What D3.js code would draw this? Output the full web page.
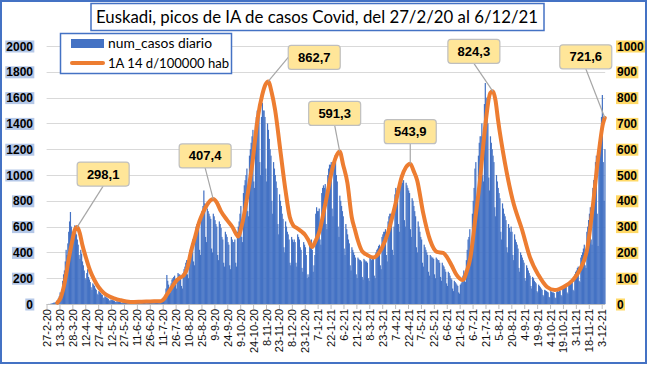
<!DOCTYPE html>
<html><head><meta charset="utf-8">
<script src="https://cdn.jsdelivr.net/npm/d3@7"></script>
<style>
html,body{margin:0;padding:0;background:#fff;}
svg{display:block;}
</style></head>
<body>
<svg id="chart" width="650" height="366"></svg>
<script>
// ---------------- DATA ----------------
const startDate = "27-2-20";
const endDate = "6-12-21";
const titleText = "Euskadi, picos de IA de casos Covid, del 27/2/20 al 6/12/21";
const seriesNames = ["num_casos diario", "1A 14 d/100000 hab"];

// daily cases, one row per week (Thu..Wed), starting 27-2-20
const dailyCases = [
  0,0,1,0,2,3,5,
  8,12,10,14,25,30,45,
  60,90,80,110,180,230,260,
  330,420,380,470,560,640,713,
  600,560,480,520,610,580,540,
  500,460,380,350,420,390,330,
  300,260,200,190,240,270,210,
  190,170,130,110,160,150,140,
  120,110,80,70,100,95,85,
  75,70,50,45,60,55,50,
  45,40,28,25,35,32,30,
  28,25,18,15,22,20,18,
  17,15,10,9,14,13,12,
  12,11,7,6,10,9,10,
  9,8,6,5,8,10,9,
  10,9,6,5,12,11,10,
  12,10,7,6,13,12,14,
  15,14,9,8,16,18,17,
  18,20,12,10,22,25,28,
  35,40,30,28,60,120,225,
  180,150,100,90,160,190,200,
  210,220,150,120,200,240,230,
  230,210,140,120,240,270,290,
  320,340,230,200,380,420,440,
  470,500,330,300,550,600,620,
  600,640,420,380,680,720,760,
  880,780,520,480,740,720,700,
  680,660,430,400,700,680,650,
  620,600,380,340,640,620,590,
  520,500,320,290,560,540,520,
  480,460,300,270,520,500,480,
  480,500,320,290,560,600,640,
  700,760,520,480,860,920,960,
  1000,1050,720,680,1150,1200,1250,
  1300,1350,950,900,1400,1450,1500,
  1480,1520,1100,1000,1450,1560,1500,
  1500,1450,1050,950,1400,1350,1280,
  1200,1150,800,700,1100,1050,1000,
  950,900,620,540,850,800,760,
  700,660,440,400,640,600,560,
  540,500,320,300,520,500,480,
  500,480,320,290,540,520,500,
  440,420,280,250,480,460,440,
  380,200,230,210,460,480,500,
  420,250,300,380,700,750,720,
  720,740,500,460,860,900,920,
  900,930,620,580,1000,1050,1080,
  1080,1100,740,680,1120,1150,1100,
  1000,950,600,520,840,800,760,
  720,680,430,380,620,580,540,
  500,470,300,260,440,420,400,
  380,360,230,200,360,350,340,
  340,330,210,190,350,340,330,
  330,320,200,180,360,350,340,
  360,350,220,200,400,420,430,
  450,460,300,270,520,540,560,
  560,580,380,330,640,680,700,
  700,650,420,380,600,850,900,
  880,900,620,560,960,1000,1000,
  940,960,650,600,940,920,900,
  880,860,580,520,820,800,760,
  720,680,440,400,640,600,560,
  520,500,320,290,460,440,420,
  400,380,250,220,380,370,360,
  360,350,230,200,360,350,340,
  340,320,210,180,320,300,290,
  270,250,160,140,250,240,220,
  200,190,120,100,180,170,160,
  150,140,90,80,150,160,170,
  220,260,180,170,340,420,500,
  520,580,400,380,700,800,900,
  1050,1100,780,700,1150,1250,1300,
  1300,1400,1000,950,1550,1713,1600,
  1450,1400,980,880,1300,1250,1200,
  1150,1100,750,680,1000,950,900,
  860,820,560,500,780,740,700,
  680,650,440,400,620,590,560,
  600,560,380,340,540,500,480,
  460,430,280,250,400,380,360,
  340,320,200,180,300,280,260,
  240,220,140,120,210,200,180,
  170,160,100,90,150,140,130,
  120,110,70,60,110,105,100,
  95,90,55,50,100,95,90,
  90,85,50,45,95,100,95,
  110,105,70,60,130,135,130,
  150,140,90,80,170,170,160,
  180,170,110,100,230,250,260,
  280,290,180,170,360,380,400,
  430,460,300,280,560,600,651,
  700,750,500,460,900,961,1000,
  1100,1150,700,450,1250,1300,1350,
  1450,1620,1100,800,1200
];

// IA 14 d / 100000 hab, read at these day offsets from 27-2-20
const iaDays = [12,16,20,25,29,32,35,38,41,45,50,55,60,66,72,78,85,97,110,120,132,136,139,145,151,155,159,163,167,172,177,181,186,190,193,197,202,209,216,219,222,226,232,238,245,250,254,257,261,265,271,277,282,286,290,296,300,304,308,312,317,321,325,332,337,340,344,349,354,358,361,366,372,379,385,389,396,404,412,417,422,426,430,437,445,453,460,465,470,476,483,488,492,497,503,509,515,518,521,524,532,541,552,561,571,581,590,600,611,619,628,634,640,646,648];
const iaValues = [5,25,75,170,240,285,298.1,275,230,182,130,93,65,43,30,22,15,8,9,10,11,20,35,65,93,103,112,140,200,260,320,353,385,402,407.4,395,360,326,295,275,262,300,403,531,725,810,852,862.7,820,752,597,442,337,305,295,280,267,245,221,245,287,350,415,531,580,591.3,540,469,337,285,248,205,190,180,195,217,275,376,492,530,543.9,515,480,353,248,202,198,180,150,112,93,130,182,314,480,686,818,824.3,790,713,547,403,287,182,112,66,54,66,93,132,221,376,558,700,721.6];

// labelled peaks (day offset, value)
const peakDays = [35,193,257,340,422,518,648];
const peakValues = [298.1,407.4,862.7,591.3,543.9,824.3,721.6];

// tick labels, every 15 days from 27-2-20
const tickLabels = ["27-2-20","13-3-20","28-3-20","12-4-20","27-4-20","12-5-20","27-5-20","11-6-20","26-6-20","11-7-20","26-7-20","10-8-20","25-8-20","9-9-20","24-9-20","9-10-20","24-10-20","8-11-20","23-11-20","8-12-20","23-12-20","7-1-21","22-1-21","6-2-21","21-2-21","8-3-21","23-3-21","7-4-21","22-4-21","7-5-21","22-5-21","6-6-21","21-6-21","6-7-21","21-7-21","5-8-21","20-8-21","4-9-21","19-9-21","4-10-21","19-10-21","3-11-21","18-11-21","3-12-21"];
const tickStep = 15;
const leftTicks = [0,200,400,600,800,1000,1200,1400,1600,1800,2000];
const rightTicks = [0,100,200,300,400,500,600,700,800,900,1000];

// ---------------- LAYOUT / STYLE ----------------
const plot = {left:46.6, right:605.2, top:46, bottom:304};
// label box offsets from peak point (px) and leader anchor side
const peakLabelLayout = [
  {dx:26, dy:-53, side:"bottom"},
  {dx:-8, dy:-43, side:"bottom"},
  {dx:46, dy:-24, side:"left"},
  {dx:-5, dy:-38, side:"bottom"},
  {dx:0, dy:-32, side:"bottom"},
  {dx:-19, dy:-40, side:"bottom"},
  {dx:-19, dy:-61, side:"bottom"}
];
const BLUE = "#4472C4", ORANGE = "#ED7D31";

const svg = d3.select("#chart");
svg.append("rect").attr("width",650).attr("height",366).attr("fill","#fff");

const n = dailyCases.length;
const x = d3.scaleLinear().domain([-0.5, n - 0.5]).range([plot.left, plot.right]);
const yL = d3.scaleLinear().domain([0,2000]).range([plot.bottom, plot.top]);
const yR = d3.scaleLinear().domain([0,1000]).range([plot.bottom, plot.top]);
const step = x(1) - x(0);

// gridlines
svg.append("g").selectAll("line").data(leftTicks.slice(1)).join("line")
  .attr("x1", plot.left).attr("x2", plot.right)
  .attr("y1", d => Math.round(yL(d)) + 0.5).attr("y2", d => Math.round(yL(d)) + 0.5)
  .attr("stroke", "#D9D9D9").attr("stroke-width", 1);

// bars
svg.append("g").selectAll("rect").data(dailyCases).join("rect")
  .attr("x", (d,i) => x(i) - step/2)
  .attr("width", step + 0.35)
  .attr("y", d => yL(d))
  .attr("height", d => plot.bottom - yL(d))
  .attr("fill", BLUE);

// x axis
const xAxisG = svg.append("g").attr("transform", `translate(0,${plot.bottom})`);
xAxisG.append("line").attr("x1", plot.left).attr("x2", plot.right).attr("y1",0.5).attr("y2",0.5)
  .attr("stroke","#BFBFBF");
const tickG = xAxisG.selectAll("g.t").data(tickLabels).join("g").attr("class","t")
  .attr("transform", (d,i) => `translate(${x(i*tickStep)},0)`);
tickG.append("line").attr("y1",0).attr("y2",5).attr("stroke","#BFBFBF");
tickG.append("text").attr("transform","rotate(-90)")
  .attr("x",-5).attr("y",4).attr("text-anchor","end")
  .attr("font-family","Liberation Sans, Arial, sans-serif").attr("font-size",11)
  .attr("fill","#0d0d0d").text(d => d);

// IA line
const line = d3.line().x((d,i) => x(iaDays[i])).y(d => yR(d)).curve(d3.curveMonotoneX);
svg.append("path").datum(iaValues).attr("d", line)
  .attr("fill","none").attr("stroke",ORANGE).attr("stroke-width",4)
  .attr("stroke-linejoin","round").attr("stroke-linecap","round");

// y axes labels with highlight
function axisLabels(ticks, scale, xpos, anchor, bg) {
  const g = svg.append("g");
  ticks.forEach(t => {
    const tx = g.append("text").attr("x", xpos).attr("y", scale(t) + 4.5)
      .attr("text-anchor", anchor).attr("font-family","Liberation Sans, Arial, sans-serif")
      .attr("font-weight","bold").attr("font-size",12).attr("fill","#000").text(t);
    const bb = tx.node().getBBox();
    g.insert("rect", "text").attr("x", bb.x - 1).attr("y", bb.y + 1).attr("width", bb.width + 2)
      .attr("height", bb.height - 2).attr("fill", bg);
  });
}
axisLabels(leftTicks, yL, 33, "end", "#B4C7E7");
axisLabels(rightTicks, yR, 617, "start", "#FFD966");

// peak labels
const lab = svg.append("g");
peakValues.forEach((v,i) => {
  const px = x(peakDays[i]), py = yR(v);
  const L = peakLabelLayout[i];
  const txt = d3.format(".1f")(v).replace(".", ",");
  const w = 52, h = 24;
  const cx = px + L.dx, cy = py + L.dy;
  let ax = cx, ay = cy + h/2;
  if (L.side === "left") { ax = cx - w/2; ay = cy; }
  lab.append("line").attr("x1",px).attr("y1",py).attr("x2",ax).attr("y2",ay)
    .attr("stroke","#A6A6A6").attr("stroke-width",1.2);
  lab.append("rect").attr("x",cx - w/2).attr("y",cy - h/2).attr("width",w).attr("height",h)
    .attr("rx",3).attr("fill","#FFE699").attr("stroke","#BFBFBF").attr("stroke-width",1.2);
  lab.append("text").attr("x",cx).attr("y",cy + 4.5).attr("text-anchor","middle")
    .attr("font-family","Liberation Sans, Arial, sans-serif").attr("font-weight","bold")
    .attr("font-size",13).attr("fill","#000").text(txt);
});

// legend
const lg = svg.append("g");
lg.append("rect").attr("x",60.5).attr("y",33.5).attr("width",171).attr("height",40)
  .attr("fill","#fff").attr("stroke",BLUE).attr("stroke-width",1.5);
lg.append("rect").attr("x",71).attr("y",39).attr("width",33).attr("height",9).attr("fill",BLUE);
lg.append("line").attr("x1",72).attr("x2",103).attr("y1",63).attr("y2",63)
  .attr("stroke",ORANGE).attr("stroke-width",4).attr("stroke-linecap","round");
lg.append("text").attr("x",108).attr("y",48).attr("font-family","Lato, sans-serif")
  .attr("font-size",13.5).attr("fill","#000").attr("textLength",104).attr("lengthAdjust","spacingAndGlyphs")
  .text(seriesNames[0]);
lg.append("text").attr("x",108).attr("y",68).attr("font-family","Lato, sans-serif")
  .attr("font-size",13.5).attr("fill","#000").attr("textLength",121).attr("lengthAdjust","spacingAndGlyphs")
  .text(seriesNames[1]);

// title
svg.append("rect").attr("x",91).attr("y",3.5).attr("width",453).attr("height",27)
  .attr("fill","#fff").attr("stroke",BLUE).attr("stroke-width",1.5);
svg.append("text").attr("x",96).attr("y",23).attr("font-family","Lato, sans-serif")
  .attr("font-size",17).attr("fill","#000").attr("textLength",442).attr("lengthAdjust","spacingAndGlyphs")
  .text(titleText);

// outer border
svg.append("rect").attr("x",1).attr("y",1).attr("width",645).attr("height",362)
  .attr("fill","none").attr("stroke",BLUE).attr("stroke-width",2);
</script>
</body></html>
